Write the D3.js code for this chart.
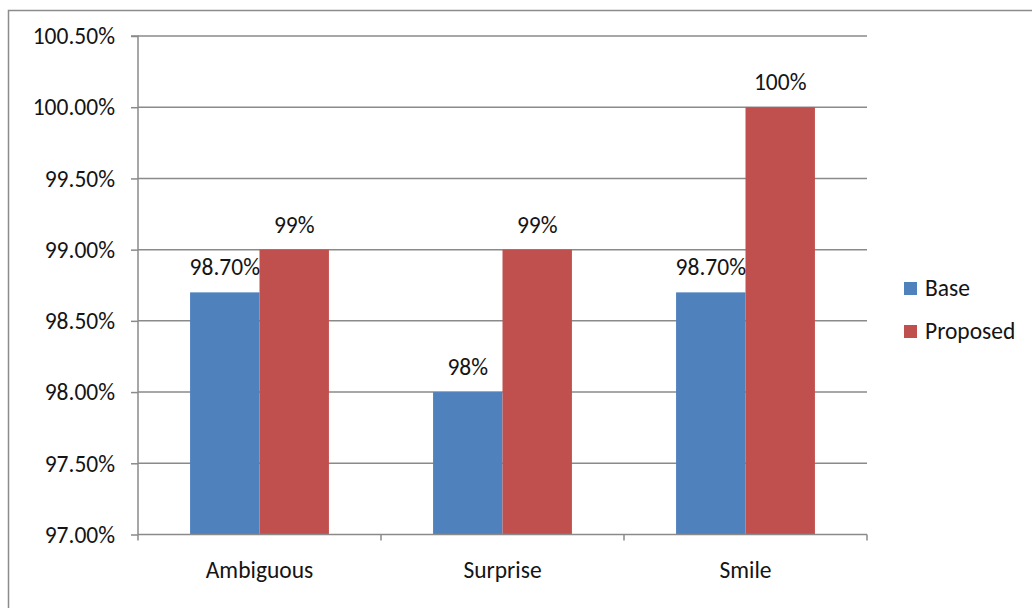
<!DOCTYPE html>
<html>
<head>
<meta charset="utf-8">
<script src="https://cdn.jsdelivr.net/npm/d3@7"></script>
<style>
  body { margin: 0; background: #fff; }
  svg text { font-family: Carlito, Lato, "Liberation Sans", sans-serif; fill: #141414; }
</style>
</head>
<body>
<div id="chart"></div>
<script>
const categories = ["Ambiguous", "Surprise", "Smile"];
const seriesNames = ["Base", "Proposed"];
const baseValues = [98.7, 98.0, 98.7];
const proposedValues = [99.0, 99.0, 100.0];
const baseLabels = ["98.70%", "98%", "98.70%"];
const proposedLabels = ["99%", "99%", "100%"];
const yTicks = [97.0, 97.5, 98.0, 98.5, 99.0, 99.5, 100.0, 100.5];

function main() {
    const canvasWidth = 1032;
    const canvasHeight = 608;
    const colors = ["#4F81BD", "#C0504D"];
    const fontSize = "23.5px";

    const svg = d3.select("#chart").append("svg")
        .attr("width", canvasWidth)
        .attr("height", canvasHeight);

    // outer frame, right and bottom run off the picture
    svg.append("rect")
        .attr("x", 8.5).attr("y", 10.5)
        .attr("width", 1040).attr("height", 620)
        .attr("fill", "none")
        .attr("stroke", "#8c8c8c")
        .attr("stroke-width", 1.5);

    const left = 138, right = 867, top = 36, bottom = 534.5;

    const xScale = d3.scaleBand()
        .domain(categories)
        .range([left, right])
        .paddingInner(0)
        .paddingOuter(0);

    const yScale = d3.scaleLinear()
        .domain([97, 100.5])
        .range([bottom, top]);

    // gridlines
    svg.append("g")
        .selectAll("line")
        .data(yTicks.slice(1))
        .join("line")
        .attr("x1", left).attr("x2", right)
        .attr("y1", d => yScale(d)).attr("y2", d => yScale(d))
        .attr("stroke", "#8a8a8a")
        .attr("stroke-width", 1.5);

    const yAxis = svg.append("g")
        .attr("transform", "translate(" + left + ",0)")
        .call(d3.axisLeft(yScale).tickValues(yTicks).tickSize(7).tickPadding(16)
            .tickFormat(d => d.toFixed(2) + "%"));
    yAxis.selectAll("path, line").attr("stroke", "#8a8a8a").attr("stroke-width", 1.5);
    yAxis.select(".domain").attr("d", "M-7," + top + "H0V" + bottom);
    yAxis.selectAll("text").attr("font-size", fontSize).attr("dy", "0.33em");

    // bars: gap width 150% of a bar
    const barW = xScale.bandwidth() / 3.5;
    const groups = svg.append("g")
        .selectAll("g")
        .data(categories)
        .join("g")
        .attr("transform", d => "translate(" + (xScale(d) + xScale.bandwidth() / 2 - barW) + ",0)");

    [baseValues, proposedValues].forEach((vals, s) => {
        groups.append("rect")
            .attr("x", s * barW)
            .attr("y", (d, i) => yScale(vals[i]))
            .attr("width", barW)
            .attr("height", (d, i) => bottom - yScale(vals[i]))
            .attr("fill", colors[s]);
    });

    [baseLabels, proposedLabels].forEach((labels, s) => {
        const vals = s === 0 ? baseValues : proposedValues;
        groups.append("text")
            .attr("x", s * barW + barW / 2)
            .attr("y", (d, i) => yScale(vals[i]) - 17)
            .attr("text-anchor", "middle")
            .attr("font-size", fontSize)
            .text((d, i) => labels[i]);
    });

    // x axis
    const xAxis = svg.append("g")
        .attr("transform", "translate(0," + bottom + ")");
    xAxis.append("line")
        .attr("x1", left).attr("x2", right)
        .attr("stroke", "#8a8a8a").attr("stroke-width", 1.5);
    xAxis.selectAll(".tk")
        .data(categories.map(c => xScale(c)).concat([right]))
        .join("line")
        .attr("x1", d => d).attr("x2", d => d)
        .attr("y1", 0).attr("y2", 6)
        .attr("stroke", "#8a8a8a").attr("stroke-width", 1.5);
    xAxis.selectAll("text")
        .data(categories)
        .join("text")
        .attr("x", d => xScale(d) + xScale.bandwidth() / 2)
        .attr("y", 43)
        .attr("text-anchor", "middle")
        .attr("font-size", fontSize)
        .text(d => d);

    // legend
    const legend = svg.append("g")
        .attr("transform", "translate(904,282)");
    const item = legend.selectAll("g")
        .data(seriesNames)
        .join("g")
        .attr("transform", (d, i) => "translate(0," + i * 43 + ")");
    item.append("rect")
        .attr("width", 13).attr("height", 13)
        .attr("fill", (d, i) => colors[i]);
    item.append("text")
        .attr("x", 21).attr("y", 6.5)
        .attr("dy", "0.33em")
        .attr("font-size", fontSize)
        .text(d => d);
}
main();
</script>
</body>
</html>
